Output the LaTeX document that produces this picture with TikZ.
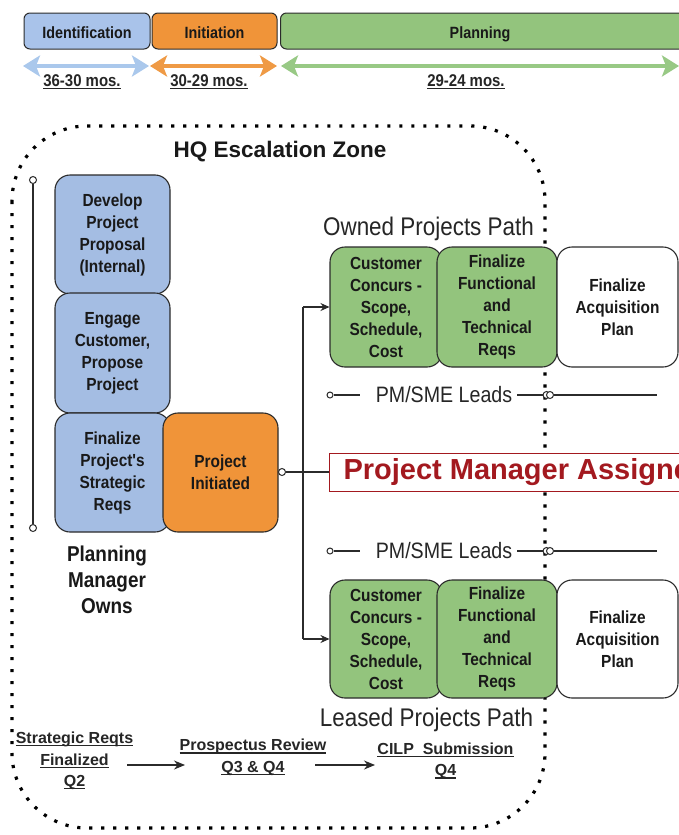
\documentclass[tikz,border=0pt]{standalone}
\usepackage{fontspec}
\setmainfont{Liberation Sans}
\newfontfamily\nar{Liberation Sans}[FakeStretch=0.88]
\newcommand{\myul}[1]{\setbox0\hbox{#1}\leavevmode\rlap{\rule[-2.6pt]{\wd0}{1.1pt}}\box0}
\usetikzlibrary{arrows.meta}
\definecolor{linec}{HTML}{2B2B2B}
\definecolor{bluebox}{HTML}{A4BDE3}
\definecolor{bluetop}{HTML}{A9C3EA}
\definecolor{bluearr}{HTML}{AAC8EC}
\definecolor{orangebox}{HTML}{F09439}
\definecolor{orangearr}{HTML}{EF9A45}
\definecolor{greenbox}{HTML}{93C47D}
\definecolor{greenarr}{HTML}{98C985}
\definecolor{redc}{HTML}{A3191F}
\begin{document}
\begin{tikzpicture}[x=1pt,y=-1pt,
  topbox/.style={draw=linec, line width=1pt, rounded corners=6pt, inner sep=0pt, minimum height=36pt},
  toptxt/.style={font=\nar\bfseries\fontsize{16.3}{19}\selectfont, text=black!90, inner sep=0pt, anchor=base},
  mostxt/.style={font=\nar\bfseries\fontsize{17}{19}\selectfont, text=black!85, inner sep=0pt, anchor=base},
  spanarrow/.style={line width=4pt, {Stealth[length=17pt,width=21pt,inset=4pt]}-{Stealth[length=17pt,width=21pt,inset=4pt]}},
  procbox/.style={draw=linec, line width=1.1pt, rounded corners=15pt, inner sep=0pt, align=center,
    font=\nar\bfseries\fontsize{17.5}{22}\selectfont, text=black!90},
  conn/.style={draw=linec, line width=1.1pt},
  arr/.style={conn, -{Stealth[length=9pt,width=8pt]}},
  circ/.style={circle, draw=linec, fill=white, line width=1pt, inner sep=0pt, minimum size=7pt},
  pathtxt/.style={font=\nar\fontsize{25.5}{29}\selectfont, text=black!85, inner sep=0pt, anchor=base},
  leadtxt/.style={font=\nar\fontsize{22.3}{26}\selectfont, text=black!85, inner sep=0pt, anchor=base},
  zone/.style={draw=black, line width=3.2pt, dash pattern=on 3.2pt off 8.8pt, rounded corners=75pt},
  qtxt/.style={font=\bfseries\fontsize{16}{21.5}\selectfont, text=black!85, align=center, inner sep=0pt}
]
\useasboundingbox (0,0) rectangle (679,835);
\clip (0,0) rectangle (679,835);
\fill[white] (0,0) rectangle (679,835);

% dotted escalation zone
\draw[zone] (12,126) rectangle (545,828);

% top timeline
\node[topbox, fill=bluetop, minimum width=126pt] (idb) at (87,31) {};
\node[topbox, fill=orangebox, minimum width=125pt] (inb) at (214.5,31) {};
\node[topbox, fill=greenbox, minimum width=440pt, anchor=west] (plb) at (280,31) {};
\node[toptxt] (idt) at (87,38.5) {Identification};
\node[toptxt] (int) at (214.5,38.5) {Initiation};
\node[toptxt] (plt) at (480,38.5) {Planning};

\coordinate (a1s) at (23,66); \coordinate (a1e) at (149,66);
\coordinate (a2s) at (150,66); \coordinate (a2e) at (277,66);
\coordinate (a3s) at (281,66); \coordinate (a3e) at (679,66);
\draw[spanarrow, bluearr] (a1s) -- (a1e);
\draw[spanarrow, orangearr] (a2s) -- (a2e);
\draw[spanarrow, greenarr] (a3s) -- (a3e);
\node[mostxt] (m1) at (82,86) {\myul{36-30 mos.}};
\node[mostxt] (m2) at (209,86) {\myul{30-29 mos.}};
\node[mostxt] (m3) at (466,86) {\myul{29-24 mos.}};

% title
\node[font=\bfseries\fontsize{22.5}{27}\selectfont, text=black!90, inner sep=0pt, anchor=base] (hq) at (280,157) {HQ Escalation Zone};

% left vertical bracket
\node[circ] (lt) at (33,180) {};
\node[circ] (lb) at (33,528) {};
\draw[conn] (lt) -- (lb);

% blue process boxes
\node[procbox, fill=bluebox, minimum width=115pt, minimum height=119pt] (dev) at (112.5,234.5) {Develop\\Project\\Proposal\\(Internal)};
\node[procbox, fill=bluebox, minimum width=115pt, minimum height=120pt] (eng) at (112.5,353) {Engage\\Customer,\\Propose\\Project};
\node[procbox, fill=bluebox, minimum width=115pt, minimum height=119pt] (fin) at (112.5,472.5) {Finalize\\Project's\\Strategic\\Reqs};
\node[procbox, fill=orangebox, minimum width=115pt, minimum height=119pt] (ini) at (220.5,472.5) {Project\\Initiated};

\node[font=\nar\bfseries\fontsize{21.5}{26}\selectfont, text=black!90, align=center, inner sep=0pt] (pmo) at (107,580) {Planning\\Manager\\Owns};

% project manager assigned
\node[draw=redc, line width=1pt, fill=white, minimum height=38pt, inner xsep=14pt, inner ysep=0pt, anchor=west,
  font=\bfseries\fontsize{29}{33}\selectfont, text=redc] (pma) at (329,472) {Project Manager Assigned};

% connectors from Project Initiated
\node[circ] (pic) at (282,472) {};
\draw[conn] (pic) -- (pma.west);

% owned projects path
\node[pathtxt] (own) at (428.5,235) {Owned Projects Path};
\node[procbox, fill=greenbox, minimum width=112pt, minimum height=120pt] (cc1) at (386,307) {Customer\\Concurs -\\Scope,\\Schedule,\\Cost};
\node[procbox, fill=greenbox, minimum width=120pt, minimum height=120pt] (ff1) at (497,307) {Finalize\\Functional\\and\\Technical\\Reqs};
\node[procbox, fill=white, minimum width=121pt, minimum height=120pt] (fa1) at (617.5,307) {Finalize\\Acquisition\\Plan};

% leased projects path
\node[procbox, fill=greenbox, minimum width=112pt, minimum height=118pt] (cc2) at (386,639) {Customer\\Concurs -\\Scope,\\Schedule,\\Cost};
\node[procbox, fill=greenbox, minimum width=120pt, minimum height=118pt] (ff2) at (497,639) {Finalize\\Functional\\and\\Technical\\Reqs};
\node[procbox, fill=white, minimum width=121pt, minimum height=118pt] (fa2) at (617.5,639) {Finalize\\Acquisition\\Plan};
\node[pathtxt] (lea) at (426.5,726) {Leased Projects Path};

\coordinate (vt) at (303,307);
\coordinate (vb) at (303,639);
\draw[conn] (vt) -- (vb);
\draw[arr] (vt) -- (cc1.west);
\draw[arr] (vb) -- (cc2.west);

% PM/SME leads rows
\node[circ, minimum size=6pt] (l1a) at (330,395) {};
\coordinate (l1b) at (360,395);
\node[leadtxt] (l1t) at (444,402) {PM/SME Leads};
\coordinate (l1c) at (517,395);
\node[circ] (l1d) at (546.5,395) {};
\node[circ] (l1e) at (550,395) {};
\coordinate (l1f) at (657,395);
\draw[conn] (l1a) -- (l1b);
\draw[conn] (l1c) -- (l1d);
\draw[conn] (l1e) -- (l1f);

\node[circ, minimum size=6pt] (l2a) at (330,551) {};
\coordinate (l2b) at (360,551);
\node[leadtxt] (l2t) at (444,558) {PM/SME Leads};
\coordinate (l2c) at (517,551);
\node[circ] (l2d) at (546.5,551) {};
\node[circ] (l2e) at (550,551) {};
\coordinate (l2f) at (657,551);
\draw[conn] (l2a) -- (l2b);
\draw[conn] (l2c) -- (l2d);
\draw[conn] (l2e) -- (l2f);

% bottom milestones
\node[qtxt] (srf) at (74.5,761) {\myul{Strategic Reqts}\\\myul{Finalized}\\\myul{Q2}};
\node[qtxt] (prv) at (253,757.5) {\myul{Prospectus Review}\\\myul{Q3 \& Q4}};
\node[qtxt] (cilp) at (445.5,761) {\myul{CILP\ \ Submission}\\\myul{Q4}};
\coordinate (b1s) at (127,765); \coordinate (b1e) at (185,765);
\coordinate (b2s) at (315,765); \coordinate (b2e) at (375,765);
\draw[arr, -{Stealth[length=11pt,width=9pt]}] (b1s) -- (b1e);
\draw[arr, -{Stealth[length=11pt,width=9pt]}] (b2s) -- (b2e);
\end{tikzpicture}
\end{document}
